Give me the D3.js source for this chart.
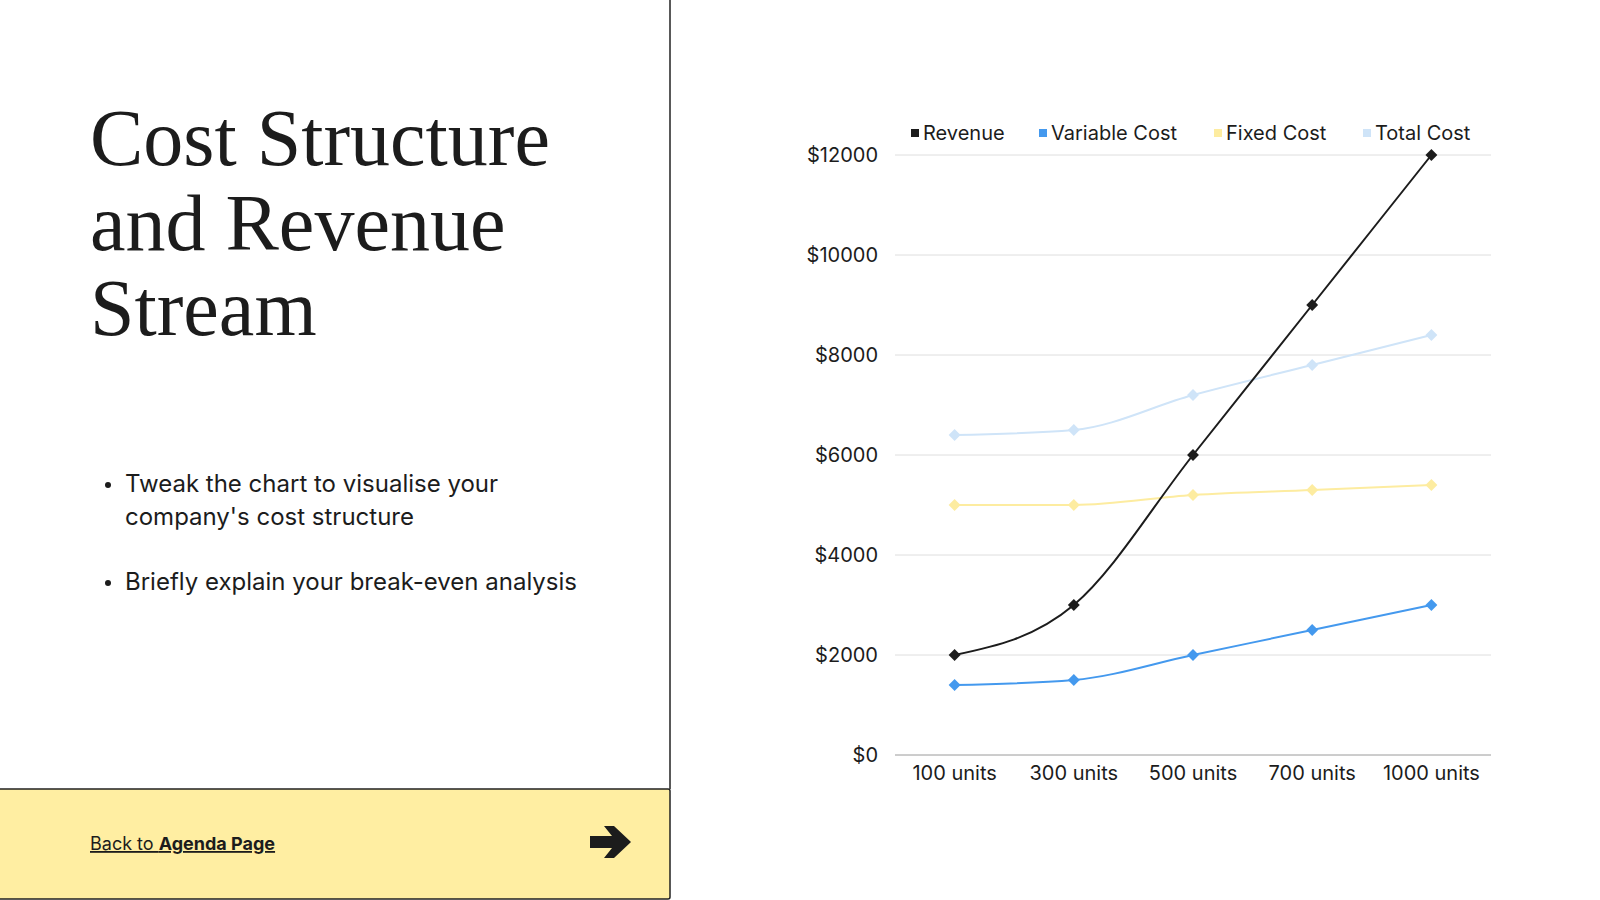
<!DOCTYPE html>
<html>
<head>
<meta charset="utf-8">
<script src="https://cdn.jsdelivr.net/npm/d3@7"></script>
<style>
  html, body { margin: 0; padding: 0; background: #fff; }
  svg { display: block; }
</style>
</head>
<body>
<div id="root"></div>
<script>
const width = 1600,
      height = 900

// chart data
const categories = ['100 units', '300 units', '500 units', '700 units', '1000 units']
const seriesNames = ['Revenue', 'Variable Cost', 'Fixed Cost', 'Total Cost']
const revenue = [2000, 3000, 6000, 9000, 12000]
const variableCost = [1400, 1500, 2000, 2500, 3000]
const fixedCost = [5000, 5000, 5200, 5300, 5400]
const totalCost = [6400, 6500, 7200, 7800, 8400]
const yTicks = [0, 2000, 4000, 6000, 8000, 10000, 12000]

const colors = ['#1c1c1c', '#4499ee', '#fdeca0', '#cfe4f8']

const titleLines = ['Cost Structure', 'and Revenue', 'Stream']
const bullets = [
  ['Tweak the chart to visualise your', "company's cost structure"],
  ['Briefly explain your break-even analysis']
]

const svg = d3.select('#root')
  .append('svg')
  .attr('width', width)
  .attr('height', height)

// left panel
svg.append('line')
  .attr('x1', 670).attr('x2', 670)
  .attr('y1', 0).attr('y2', 789)
  .attr('stroke', '#222').attr('stroke-width', 1.5)

svg.append('rect')
  .attr('x', -2).attr('y', 789)
  .attr('width', 672).attr('height', 110)
  .attr('rx', 2)
  .attr('fill', '#ffeea2')
  .attr('stroke', '#222').attr('stroke-width', 1.5)

svg.append('g')
  .selectAll('text')
  .data(titleLines)
  .enter().append('text')
  .attr('x', 90)
  .attr('y', (d, i) => 165 + i * 85)
  .attr('font-family', '"Liberation Serif", serif')
  .attr('font-size', 80)
  .attr('fill', '#1c1c1c')
  .text(d => d)

const bulletG = svg.append('g')
  .attr('font-family', 'Inter, sans-serif')
  .attr('font-size', 24)
  .attr('fill', '#1c1c1c')

const bulletTop = [492, 590]
bullets.forEach((lines, i) => {
  bulletG.append('circle')
    .attr('cx', 108).attr('cy', bulletTop[i] - 7)
    .attr('r', 3)
  lines.forEach((l, j) => {
    bulletG.append('text')
      .attr('x', 125)
      .attr('y', bulletTop[i] + j * 33)
      .text(l)
  })
})

const link = svg.append('text')
  .attr('x', 90).attr('y', 850)
  .attr('font-family', 'Inter, sans-serif')
  .attr('font-size', 18)
  .attr('fill', '#1c1c1c')
  .attr('text-decoration', 'underline')
link.append('tspan').text('Back to ')
link.append('tspan').attr('font-weight', 700).text('Agenda Page')

// arrow
svg.append('path')
  .attr('d', 'M590,836 L612,836 L604,826 L614,826 L631,842 L614,858 L604,858 L612,848 L590,848 Z')
  .attr('fill', '#1c1c1c')

// chart
const margin = { left: 895, right: 1491, top: 155, bottom: 755 }

const x = d3.scaleBand()
  .domain(categories)
  .range([margin.left, margin.right])

const y = d3.scaleLinear()
  .domain([0, 12000])
  .range([margin.bottom, margin.top])

const chart = svg.append('g')

chart.append('g')
  .attr('class', 'grid')
  .selectAll('line')
  .data(yTicks)
  .enter().append('line')
  .attr('x1', margin.left).attr('x2', margin.right)
  .attr('y1', d => y(d)).attr('y2', d => y(d))
  .attr('stroke', d => d === 0 ? '#9a9a9a' : '#dedede')
  .attr('stroke-width', 1)

const yAxis = chart.append('g')
  .attr('transform', `translate(${margin.left - 14},0)`)
  .call(d3.axisLeft(y).tickValues(yTicks).tickSize(0).tickFormat(d => '$' + d))
yAxis.select('.domain').remove()
yAxis.selectAll('text')
  .attr('font-family', 'Inter, sans-serif')
  .attr('font-size', 20)
  .attr('fill', '#1c1c1c')
  .attr('dx', 0)

const xAxis = chart.append('g')
  .attr('transform', `translate(0,${margin.bottom + 8})`)
  .call(d3.axisBottom(x).tickSize(0))
xAxis.select('.domain').remove()
xAxis.selectAll('text')
  .attr('font-family', 'Inter, sans-serif')
  .attr('font-size', 20)
  .attr('fill', '#1c1c1c')

const series = [revenue, variableCost, fixedCost, totalCost]
const drawOrder = [3, 2, 1, 0]

const line = d3.line()
  .x((d, i) => x(categories[i]) + x.bandwidth() / 2)
  .y(d => y(d))
  .curve(d3.curveMonotoneX)

const diamond = d3.symbol().type(d3.symbolDiamond2).size(90)

drawOrder.forEach(k => {
  const g = chart.append('g')
  g.append('path')
    .datum(series[k])
    .attr('d', line)
    .attr('fill', 'none')
    .attr('stroke', colors[k])
    .attr('stroke-width', 2)
  g.selectAll('path.pt')
    .data(series[k])
    .enter().append('path')
    .attr('class', 'pt')
    .attr('d', diamond)
    .attr('transform', (d, i) => `translate(${x(categories[i]) + x.bandwidth() / 2},${y(d)})`)
    .attr('fill', colors[k])
})

// legend
const legendX = [911, 1039, 1214, 1363]
const legend = chart.append('g')
  .selectAll('g')
  .data(seriesNames)
  .enter().append('g')
  .attr('transform', (d, i) => `translate(${legendX[i]},133)`)
legend.append('rect')
  .attr('x', 0).attr('y', -4)
  .attr('width', 8).attr('height', 8)
  .attr('fill', (d, i) => colors[i])
legend.append('text')
  .attr('x', 12).attr('dy', '0.35em')
  .attr('font-family', 'Inter, sans-serif')
  .attr('font-size', 20)
  .attr('fill', '#1c1c1c')
  .text(d => d)
</script>
</body>
</html>
